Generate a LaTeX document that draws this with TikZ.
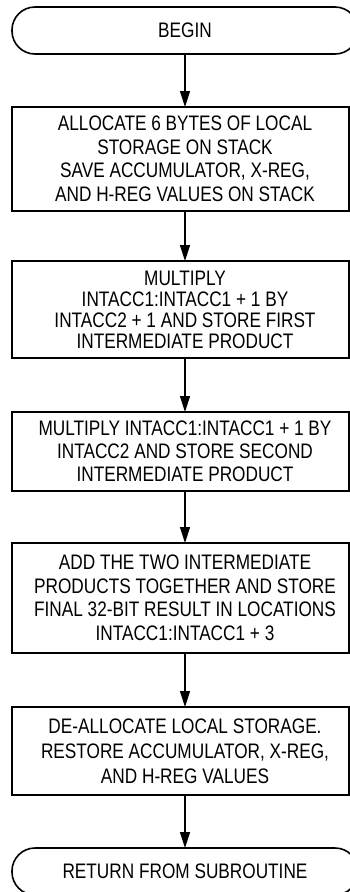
\documentclass[tikz,border=0pt]{standalone}
\usepackage{fontspec}
\setmainfont{Liberation Sans}[FakeStretch=0.82]
\usetikzlibrary{arrows.meta}
\begin{document}
\begin{tikzpicture}[x=1pt,y=-1pt,
  every node/.style={inner sep=0pt,outer sep=0pt},
  proctext/.style={minimum width=337pt,align=center,font=\fontsize{21}{23.5}\selectfont},
  boxline/.style={draw=black,line width=1.8pt},
  termbox/.style={draw=black,line width=1.6pt,rounded corners=23pt,minimum width=346pt,
    minimum height=47pt,align=center,font=\fontsize{21}{23}\selectfont},
  flow/.style={line width=1.3pt,-{Triangle[length=16pt,width=10pt]}}]
\useasboundingbox (0,0) rectangle (350,892);
\clip (0,0) rectangle (350,892);
\coordinate (L) at (12,0);
\coordinate (R) at (349,0);
\node[termbox] (begin) at (185,30.5) {BEGIN};
\node[proctext,minimum height=104pt] (b1) at (185,159) {ALLOCATE 6 BYTES OF LOCAL\\STORAGE ON STACK\\SAVE ACCUMULATOR, X-REG,\\AND H-REG VALUES ON STACK};
\node[proctext,minimum height=97pt,font=\fontsize{21}{21}\selectfont] (b2) at (185,309.5) {MULTIPLY\\INTACC1:INTACC1 + 1 BY\\INTACC2 + 1 AND STORE FIRST\\INTERMEDIATE PRODUCT};
\node[proctext,minimum height=79pt,font=\fontsize{21}{23}\selectfont] (b3) at (185,451.5) {MULTIPLY INTACC1:INTACC1 + 1 BY\\INTACC2 AND STORE SECOND\\INTERMEDIATE PRODUCT};
\node[proctext,minimum height=110pt] (b4) at (185,598) {ADD THE TWO INTERMEDIATE\\PRODUCTS TOGETHER AND STORE\\FINAL 32-BIT RESULT IN LOCATIONS\\INTACC1:INTACC1 + 3};
\node[proctext,minimum height=88pt,font=\fontsize{21}{25}\selectfont] (b5) at (185,751) {DE-ALLOCATE LOCAL STORAGE.\\RESTORE ACCUMULATOR, X-REG,\\AND H-REG VALUES};
\node[termbox] (fin) at (185,871.5) {RETURN FROM SUBROUTINE};
\foreach \b in {b1,b2,b3,b4,b5}
  \draw[boxline] (\b.north -| L) rectangle (\b.south -| R);
\draw[flow] (begin) -- (b1);
\draw[flow] (b1) -- (b2);
\draw[flow] (b2) -- (b3);
\draw[flow] (b3) -- (b4);
\draw[flow] (b4) -- (b5);
\draw[flow] (b5) -- (fin);
\end{tikzpicture}
\end{document}
